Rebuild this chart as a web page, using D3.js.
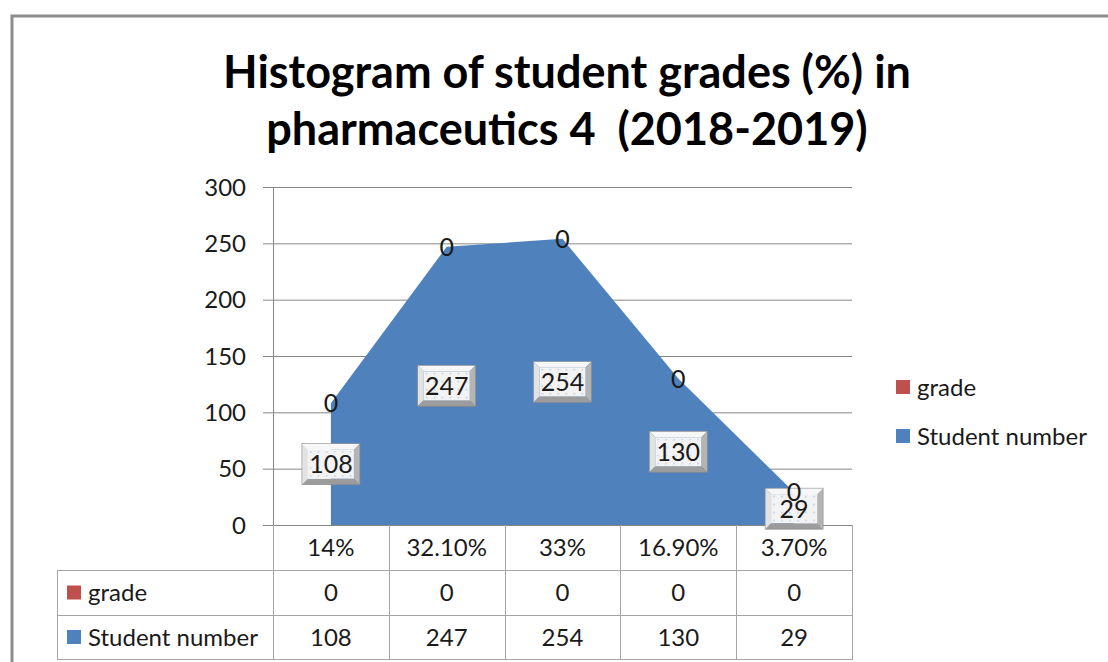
<!DOCTYPE html>
<html>
<head>
<meta charset="utf-8">
<script src="https://cdn.jsdelivr.net/npm/d3@7"></script>
<style>
  body { margin: 0; background: #fff; }
  svg { display: block; font-family: Lato, "Open Sans", sans-serif; }
</style>
</head>
<body>
<svg id="chart" width="1108" height="662"></svg>
<script>
// Chart values
var categories = ["14%", "32.10%", "33%", "16.90%", "3.70%"];
var studentNumber = [108, 247, 254, 130, 29];
var grade = [0, 0, 0, 0, 0];
var yTicks = [0, 50, 100, 150, 200, 250, 300];
var seriesNames = ["grade", "Student number"];
var seriesColors = ["#c0504d", "#4f81bd"];
var titleLines = ["Histogram of student grades (%) in", "pharmaceutics 4  (2018-2019)"];

var svg = d3.select("#chart");
var plotLeft = 273, plotRight = 852, plotTop = 187, plotBottom = 525;
var gridColor = "#868686", tableColor = "#a5a5a5", textColor = "#1a1a1a";
var fs = 24;

var x = d3.scaleBand().domain(categories).range([plotLeft, plotRight]);
var y = d3.scaleLinear().domain([0, 300]).range([plotBottom, plotTop]);
var cx = function(i) { return x(categories[i]) + x.bandwidth() / 2; };

// Outer chart frame (cut off on the right and bottom)
svg.append("path")
    .attr("d", "M12,662V16H1108")
    .attr("fill", "none")
    .attr("stroke", "#8c8c8c")
    .attr("stroke-width", 3);

// Title
svg.append("g").selectAll("text")
    .data(titleLines)
  .enter().append("text")
    .attr("x", 567)
    .attr("y", function(d, i) { return 88 + i * 57; })
    .attr("text-anchor", "middle")
    .attr("font-size", 45)
    .attr("font-weight", "bold")
    .attr("fill", "#000")
    .style("white-space", "pre")
    .text(function(d) { return d; });

// Defs: dotted face for the bevelled data labels
var defs = svg.append("defs");
var pat = defs.append("pattern")
    .attr("id", "dots")
    .attr("width", 8).attr("height", 8)
    .attr("patternUnits", "userSpaceOnUse");
pat.append("rect").attr("width", 8).attr("height", 8).attr("fill", "#f3f3f3");
pat.append("rect").attr("x", 3).attr("y", 3).attr("width", 1.5).attr("height", 1.5).attr("fill", "#b9cde6");

// Gridlines with tick stubs
svg.append("g").selectAll("line")
    .data(yTicks)
  .enter().append("line")
    .attr("x1", plotLeft - 10)
    .attr("x2", plotRight)
    .attr("y1", function(d) { return y(d) + 0.5; })
    .attr("y2", function(d) { return y(d) + 0.5; })
    .attr("stroke", gridColor)
    .attr("stroke-width", 1);

// Y tick labels
svg.append("g").selectAll("text")
    .data(yTicks)
  .enter().append("text")
    .attr("x", 246)
    .attr("y", function(d) { return y(d); })
    .attr("dy", "0.36em")
    .attr("text-anchor", "end")
    .attr("font-size", fs)
    .attr("fill", textColor)
    .text(function(d) { return d; });

// Stacked area: Student number at the bottom, grade on top
var stackData = categories.map(function(c, i) {
  return { i: i, "Student number": studentNumber[i], "grade": grade[i] };
});
var stacked = d3.stack().keys(["Student number", "grade"])(stackData);

var area = d3.area()
    .x(function(d) { return cx(d.data.i); })
    .y0(function(d) { return y(d[0]); })
    .y1(function(d) { return y(d[1]); });

svg.append("g").selectAll("path")
    .data(stacked)
  .enter().append("path")
    .attr("d", area)
    .attr("fill", function(d) { return seriesColors[seriesNames.indexOf(d.key)]; });

// Y axis line
svg.append("line")
    .attr("x1", plotLeft + 0.5).attr("x2", plotLeft + 0.5)
    .attr("y1", plotTop).attr("y2", plotBottom)
    .attr("stroke", gridColor);

// Bevelled labels for Student number, centred in the band
var boxW = 58, boxH = 41, b = 6;
var labels = svg.append("g").selectAll("g")
    .data(stacked[0])
  .enter().append("g")
    .attr("transform", function(d) {
      return "translate(" + cx(d.data.i) + "," + y((d[0] + d[1]) / 2) + ")";
    });

var w2 = boxW / 2, h2 = boxH / 2;
var facets = [
  { pts: [[-w2, -h2], [w2, -h2], [w2 - b, -h2 + b], [-w2 + b, -h2 + b]], fill: "#f7f7f7" },
  { pts: [[-w2, -h2], [-w2 + b, -h2 + b], [-w2 + b, h2 - b], [-w2, h2]], fill: "#e2e2e2" },
  { pts: [[w2, -h2], [w2, h2], [w2 - b, h2 - b], [w2 - b, -h2 + b]], fill: "#b4b4b4" },
  { pts: [[-w2, h2], [-w2 + b, h2 - b], [w2 - b, h2 - b], [w2, h2]], fill: "#9c9c9c" }
];
facets.forEach(function(f) {
  labels.append("polygon")
      .attr("points", f.pts.map(function(p) { return p.join(","); }).join(" "))
      .attr("fill", f.fill);
});
labels.append("rect")
    .attr("x", -w2 + b).attr("y", -h2 + b)
    .attr("width", boxW - 2 * b).attr("height", boxH - 2 * b)
    .attr("fill", "url(#dots)");
labels.append("rect")
    .attr("x", -w2).attr("y", -h2)
    .attr("width", boxW).attr("height", boxH)
    .attr("fill", "none")
    .attr("stroke", "#8a8a8a")
    .attr("stroke-width", 0.6);
labels.append("text")
    .attr("text-anchor", "middle")
    .attr("dy", "0.36em")
    .attr("font-size", 25)
    .attr("fill", textColor)
    .text(function(d) { return d.data["Student number"]; });

// "0" labels for grade at the top of the stack
svg.append("g").selectAll("text")
    .data(stacked[1])
  .enter().append("text")
    .attr("x", function(d) { return cx(d.data.i); })
    .attr("y", function(d) { return y(d[1]); })
    .attr("dy", "0.36em")
    .attr("text-anchor", "middle")
    .attr("font-size", 25)
    .attr("fill", textColor)
    .text(function(d) { return d.data.grade; });

// Data table below the plot
var rowTop = [plotBottom, 570, 615], rowBot = 659, tableLeft = 57;
var bounds = categories.map(function(c) { return x(c); }).concat([plotRight]);
var tbl = svg.append("g").attr("stroke", tableColor).attr("stroke-width", 1);

bounds.forEach(function(bx) {
  tbl.append("line")
      .attr("x1", Math.round(bx) + 0.5).attr("x2", Math.round(bx) + 0.5)
      .attr("y1", plotBottom).attr("y2", rowBot);
});
tbl.append("line")
    .attr("x1", tableLeft + 0.5).attr("x2", tableLeft + 0.5)
    .attr("y1", rowTop[1]).attr("y2", rowBot);
[rowTop[1], rowTop[2], rowBot].forEach(function(ry) {
  tbl.append("line")
      .attr("x1", tableLeft).attr("x2", plotRight + 1)
      .attr("y1", ry + 0.5).attr("y2", ry + 0.5);
});

// Header row: category labels
svg.append("g").selectAll("text")
    .data(categories)
  .enter().append("text")
    .attr("x", function(d, i) { return cx(i); })
    .attr("y", (rowTop[0] + rowTop[1]) / 2)
    .attr("dy", "0.36em")
    .attr("text-anchor", "middle")
    .attr("font-size", fs)
    .attr("fill", textColor)
    .text(function(d) { return d; });

// Value rows
var rows = [grade, studentNumber];
rows.forEach(function(vals, r) {
  var cy = (rowTop[r + 1] + (r === 0 ? rowTop[2] : rowBot)) / 2;
  svg.append("g").selectAll("text")
      .data(vals)
    .enter().append("text")
      .attr("x", function(d, i) { return cx(i); })
      .attr("y", cy)
      .attr("dy", "0.36em")
      .attr("text-anchor", "middle")
      .attr("font-size", fs)
      .attr("fill", textColor)
      .text(function(d) { return d; });
  svg.append("rect")
      .attr("x", 67).attr("y", cy - 7)
      .attr("width", 14).attr("height", 14)
      .attr("fill", seriesColors[r]);
  svg.append("text")
      .attr("x", 88).attr("y", cy)
      .attr("dy", "0.36em")
      .attr("font-size", fs)
      .attr("fill", textColor)
      .text(seriesNames[r]);
});

// Legend on the right
var legend = svg.append("g").selectAll("g")
    .data(seriesNames)
  .enter().append("g")
    .attr("transform", function(d, i) { return "translate(896," + (387 + i * 49) + ")"; });
legend.append("rect")
    .attr("y", -7).attr("width", 14).attr("height", 14)
    .attr("fill", function(d, i) { return seriesColors[i]; });
legend.append("text")
    .attr("x", 21)
    .attr("dy", "0.36em")
    .attr("font-size", fs)
    .attr("fill", textColor)
    .text(function(d) { return d; });
</script>
</body>
</html>
